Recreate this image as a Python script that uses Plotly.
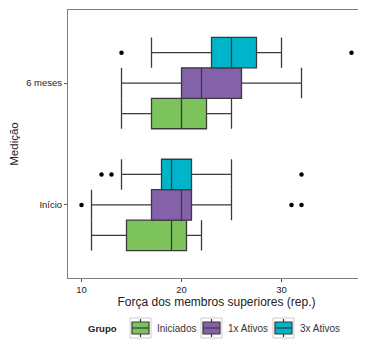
import plotly.graph_objects as go

# medições (eixo y) e grupos
medicoes = ["Início", "6 meses"]
grupos = ["Iniciados", "1x Ativos", "3x Ativos"]
cores = ["#7dc35b", "#8462aa", "#00b5c9"]

# estatísticas, uma lista por grupo: [Início, 6 meses]
q1 = {"Iniciados": [14.5, 17], "1x Ativos": [17, 20], "3x Ativos": [18, 23]}
mediana = {"Iniciados": [19, 20], "1x Ativos": [20, 22], "3x Ativos": [19, 25]}
q3 = {"Iniciados": [20.5, 22.5], "1x Ativos": [21, 26], "3x Ativos": [21, 27.5]}
minimo = {"Iniciados": [11, 14], "1x Ativos": [11, 14], "3x Ativos": [14, 17]}
maximo = {"Iniciados": [22, 25], "1x Ativos": [25, 32], "3x Ativos": [25, 30]}
outliers = {
    "Iniciados": [[], []],
    "1x Ativos": [[10, 31, 32], []],
    "3x Ativos": [[12, 13, 32], [14, 37]],
}

# dodge a la ggplot: 3 caixas coladas ocupando 0.75 de cada categoria
largura_grupo = 0.75
largura = largura_grupo / len(grupos)

LINHA = "#3a3a3a"

fig = go.Figure()

for k, (g, c) in enumerate(zip(grupos, cores)):
    desloc = (k - (len(grupos) - 1) / 2) * largura
    pos = [i + desloc for i in range(len(medicoes))]
    fig.add_trace(go.Box(
        name=g,
        orientation="h",
        y=pos,
        q1=q1[g], median=mediana[g], q3=q3[g],
        lowerfence=minimo[g], upperfence=maximo[g],
        width=largura,
        whiskerwidth=1,
        boxpoints=False,
        fillcolor=c,
        line=dict(color=LINHA, width=1.3),
        hoverinfo="skip",
        showlegend=False,
    ))
    ox, oy = [], []
    for i, pts in enumerate(outliers[g]):
        ox += pts
        oy += [pos[i]] * len(pts)
    fig.add_trace(go.Scatter(
        x=ox, y=oy, mode="markers",
        marker=dict(color="black", size=4.5),
        showlegend=False, hoverinfo="skip", cliponaxis=False,
    ))

# a pagina html tem 8px de margem no body, dai 358x339
W, H = 358, 339
ML, MR, MT, MB = 60, 1, 2, 69
pw, ph = W - ML - MR, H - MT - MB

# legenda feita a mao (estilo ggplot), posicoes em px da figura
def px(x):
    return (x - ML) / pw

def py(y):
    return (H - MB - y) / ph

leg_y = 320          # centro vertical da legenda
chave_x = [122, 193, 265]   # lado esquerdo de cada chave

fig.add_annotation(x=px(111), y=py(leg_y), xref="paper", yref="paper",
                   text="<b>Grupo</b>", showarrow=False, xanchor="right",
                   yanchor="middle", font=dict(size=9.5, color="#222222"))

for x0, g, c in zip(chave_x, grupos, cores):
    # fundo da chave
    fig.add_shape(type="rect", xref="paper", yref="paper",
                  x0=px(x0), x1=px(x0 + 21), y0=py(leg_y - 10), y1=py(leg_y + 10),
                  line=dict(color="#cccccc", width=1), fillcolor="white")
    xm = x0 + 10.5
    # bigodes
    fig.add_shape(type="line", xref="paper", yref="paper",
                  x0=px(xm), x1=px(xm), y0=py(leg_y - 9), y1=py(leg_y + 9),
                  line=dict(color=LINHA, width=1.2))
    # caixa
    fig.add_shape(type="rect", xref="paper", yref="paper",
                  x0=px(x0 + 2), x1=px(x0 + 19), y0=py(leg_y - 6), y1=py(leg_y + 6),
                  line=dict(color=LINHA, width=1.2), fillcolor=c)
    # mediana
    fig.add_shape(type="line", xref="paper", yref="paper",
                  x0=px(x0 + 2), x1=px(x0 + 19), y0=py(leg_y), y1=py(leg_y),
                  line=dict(color=LINHA, width=1.2))
    fig.add_annotation(x=px(x0 + 25), y=py(leg_y), xref="paper", yref="paper",
                       text=g, showarrow=False, xanchor="left", yanchor="middle",
                       font=dict(size=10, color="#333333"))

fig.update_layout(
    width=W,
    height=H,
    margin=dict(l=ML, r=MR, t=MT, b=MB),
    paper_bgcolor="white",
    plot_bgcolor="white",
    font=dict(family="Liberation Sans", size=11, color="#222222"),
    showlegend=False,
)

fig.update_xaxes(
    range=[8.65, 38.35],
    tickvals=[10, 20, 30],
    ticks="outside", ticklen=3, tickcolor="#555555",
    showgrid=False, zeroline=False,
    showline=True, linecolor="#7f7f7f", linewidth=1, mirror=True,
    title=dict(text="Força dos membros superiores (rep.)", font=dict(size=12), standoff=3),
    tickfont=dict(size=9.5),
    automargin=False,
)
fig.update_yaxes(
    range=[-0.6, 1.6],
    tickvals=list(range(len(medicoes))), ticktext=medicoes,
    ticks="outside", ticklen=3, tickcolor="#555555",
    showgrid=False, zeroline=False,
    showline=True, linecolor="#7f7f7f", linewidth=1, mirror=True,
    title=dict(text="Medição", font=dict(size=11.5), standoff=8),
    tickfont=dict(size=9.5),
    automargin=False,
)

fig.write_html("out.html")
